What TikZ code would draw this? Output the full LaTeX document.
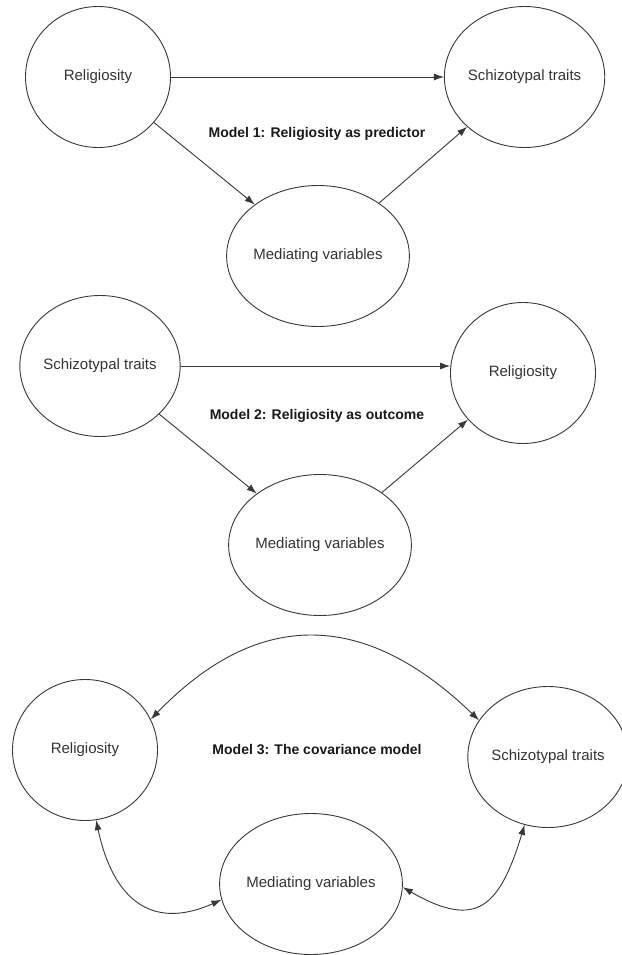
\documentclass[tikz,border=0pt]{standalone}
\usepackage{fontspec}
\setmainfont{Liberation Sans}
\usetikzlibrary{shapes, arrows.meta, positioning}
\definecolor{inkgray}{gray}{0.22}
\tikzstyle{var} = [ellipse, draw=inkgray, line width=0.9pt, minimum width=145pt, minimum height=141pt, inner sep=0pt, text=black!80, font=\fontsize{15}{18}\selectfont]
\tikzstyle{model} = [font=\fontsize{14}{17}\selectfont\bfseries, text=black!90]
\tikzstyle{line} = [draw=inkgray, line width=0.9pt, -{Latex[length=10pt, width=7pt]}]
\tikzstyle{both} = [line, {Latex[length=10pt, width=7pt]}-{Latex[length=10pt, width=7pt]}]

\begin{document}
\begin{tikzpicture}[x=1pt, y=1pt]
\useasboundingbox (0,0) rectangle (621,-955);
\node [var] (rel1) at (98,-77) {Religiosity};
\node [var, right = 273pt of rel1] (sch1) {Schizotypal traits};
\node [var] (med1) at (318,-256) {Mediating variables};
\node [model] (lab1) at (317,-134) {Model 1: Religiosity as predictor};
\path[line] (rel1) -- (sch1);
\path[line] (rel1) -- (med1);
\path[line] (med1) -- (sch1);
\node [var] (sch2) at (100,-366) {Schizotypal traits};
\node [var] (rel2) at (523,-373) {Religiosity};
\node [var] (med2) at (320,-545) {Mediating variables};
\node [model] (lab2) at (317,-416) {Model 2: Religiosity as outcome};
\path[line] (sch2) -- (sch2 -| rel2.west);
\path[line] (sch2) -- (med2);
\path[line] (med2) -- (rel2);
\node [var] (rel3) at (85,-750) {Religiosity};
\node [var] (sch3) at (548,-757) {Schizotypal traits};
\node [var] (med3) at (311,-884) {Mediating variables};
\node [model] (lab3) at (317,-749) {Model 3: The covariance model};
\path[both] (rel3.25) to[out=46, in=136, looseness=1.22] (sch3.152);
\path[both] (rel3.-81) to[out=-78, in=204, looseness=1.35] (med3.190);
\path[both] (med3.-2) to[out=-30, in=253, looseness=1.6] (sch3.-109);
\end{tikzpicture}
\end{document}
